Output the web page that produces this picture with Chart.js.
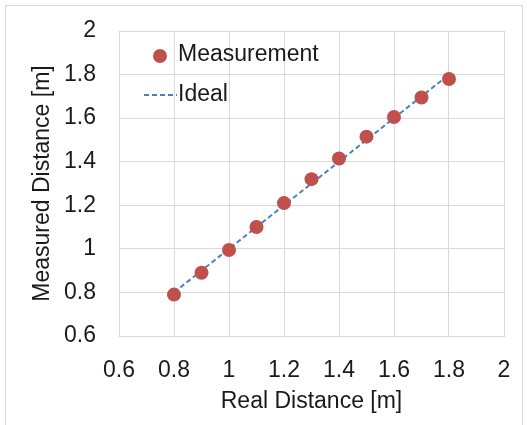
<!DOCTYPE html>
<html>
<head>
<meta charset="utf-8">
<script src="https://cdn.jsdelivr.net/npm/chart.js@4"></script>
<style>
  html, body { margin: 0; padding: 0; background: #fff; }
  #wrap { position: relative; width: 527px; height: 425px; }
  #frame { position: absolute; left: 5px; top: 5px; width: 518px; height: 430px;
           border: 1px solid #d9d9d9; box-sizing: border-box; pointer-events: none; }
</style>
</head>
<body>
<div id="wrap">
  <canvas id="chart" width="527" height="425"></canvas>
  <div id="frame"></div>
</div>
<script>
(function () {
  'use strict';

  // real distance [m]
  var realDist = [0.8, 0.9, 1.0, 1.1, 1.2, 1.3, 1.4, 1.5, 1.6, 1.7, 1.8];
  // measured distance [m]
  var measured = [0.79, 0.89, 0.995, 1.10, 1.21, 1.32, 1.415, 1.515, 1.605, 1.695, 1.78];
  // ideal line y = x
  var idealX = [0.8, 1.8];
  var idealY = [0.8, 1.8];

  var tickMin = 0.6, tickMax = 2, tickStep = 0.2;

  var RED = '#C0504D';
  var BLUE = '#4F81BD';
  var TXT = '#1a1a1a';
  var GRID = '#d9d9d9';
  var FONT = "'Liberation Sans', Arial, sans-serif";

  Chart.defaults.font.family = FONT;
  Chart.defaults.color = TXT;

  var fmt = function (v) { return String(Math.round(v * 10) / 10); };

  // fixed box sizes, no extra label padding pushed into the layout
  function fixBox(w, h) {
    return function (s) {
      if (w) s.width = w;
      if (h) s.height = h;
      s.paddingTop = s.paddingBottom = s.paddingLeft = s.paddingRight = 0;
    };
  }

  // legend drawn inside the plot area, excel style
  var insideLegend = {
    id: 'insideLegend',
    afterDraw: function (chart) {
      var ctx = chart.ctx;
      ctx.save();
      ctx.font = '23px ' + FONT;
      ctx.textBaseline = 'middle';
      ctx.textAlign = 'left';

      ctx.beginPath();
      ctx.arc(160, 56, 7, 0, Math.PI * 2);
      ctx.fillStyle = RED;
      ctx.fill();
      ctx.fillStyle = TXT;
      ctx.fillText(chart.data.datasets[0].label, 178, 55);

      ctx.beginPath();
      ctx.setLineDash([5, 3]);
      ctx.lineWidth = 2;
      ctx.strokeStyle = BLUE;
      ctx.moveTo(144, 95);
      ctx.lineTo(177, 95);
      ctx.stroke();
      ctx.setLineDash([]);
      ctx.fillText(chart.data.datasets[1].label, 178, 95);
      ctx.restore();
    }
  };

  new Chart(document.getElementById('chart'), {
    type: 'scatter',
    data: {
      datasets: [{
        label: 'Measurement',
        data: realDist.map(function (x, i) { return { x: x, y: measured[i] }; }),
        backgroundColor: RED,
        borderColor: RED,
        pointRadius: 7,
        pointHoverRadius: 7,
        borderWidth: 0,
        order: 0
      }, {
        label: 'Ideal',
        type: 'line',
        data: idealX.map(function (x, i) { return { x: x, y: idealY[i] }; }),
        borderColor: BLUE,
        borderWidth: 2,
        borderDash: [5, 3],
        pointRadius: 0,
        fill: false,
        order: 1
      }]
    },
    options: {
      responsive: false,
      animation: false,
      layout: { autoPadding: false, padding: { left: 0, right: 23, top: 31, bottom: 0 } },
      plugins: { legend: { display: false }, tooltip: { enabled: false } },
      scales: {
        x: {
          type: 'linear',
          min: tickMin, max: tickMax,
          afterFit: fixBox(0, 89),
          ticks: { stepSize: tickStep, padding: 21, font: { size: 23 }, color: TXT, callback: fmt },
          grid: { color: GRID, drawTicks: false },
          border: { display: true, color: GRID },
          title: { display: true, text: 'Real Distance [m]', font: { size: 23 }, color: TXT, padding: { top: 0, bottom: 10 } }
        },
        y: {
          type: 'linear',
          min: tickMin, max: tickMax,
          afterFit: fixBox(119, 0),
          ticks: { stepSize: tickStep, padding: 23, font: { size: 23 }, color: TXT, callback: fmt },
          grid: { color: GRID, drawTicks: false },
          border: { display: true, color: GRID },
          title: { display: true, text: 'Measured Distance [m]', font: { size: 23 }, color: TXT, padding: { top: 29, bottom: 0 } }
        }
      }
    },
    plugins: [insideLegend]
  });
})();
</script>
</body>
</html>
